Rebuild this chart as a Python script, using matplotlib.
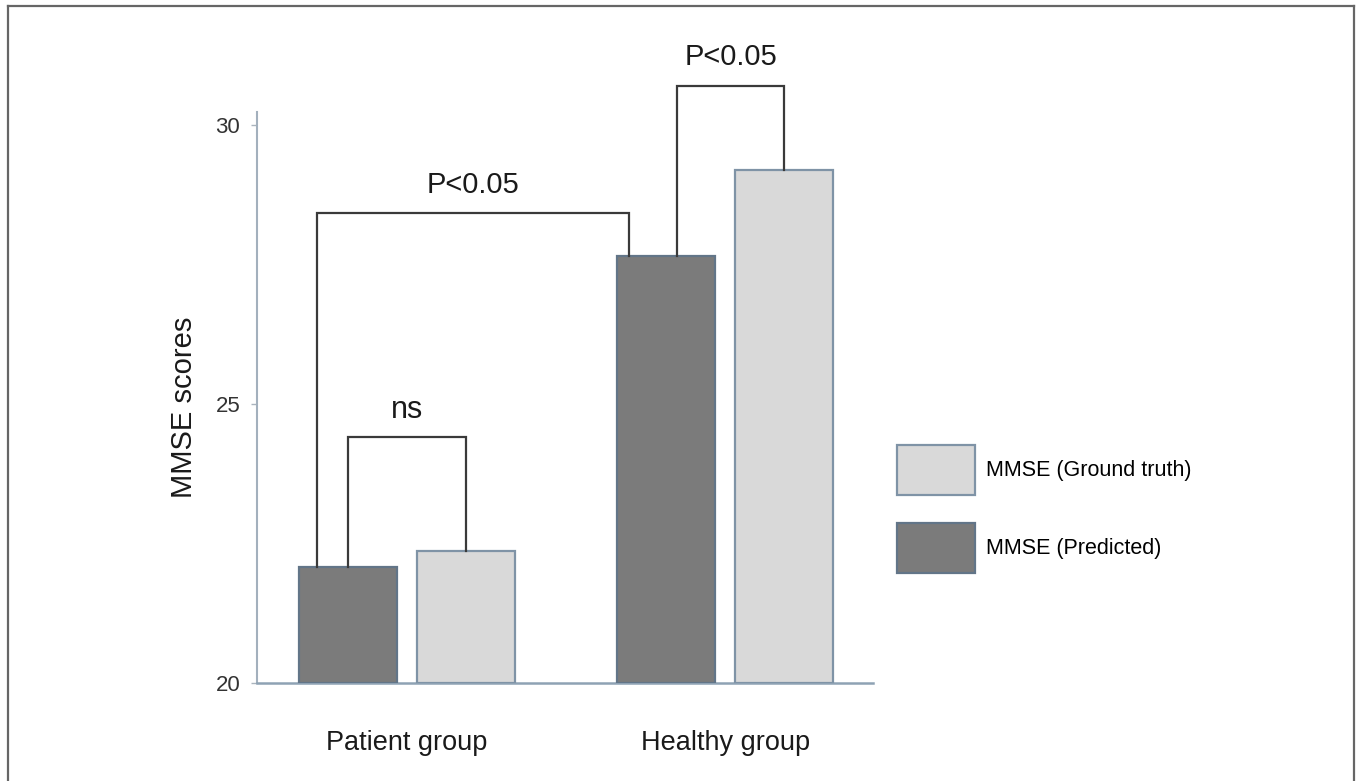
import numpy as np
import matplotlib.pyplot as plt
from matplotlib.lines import Line2D

plt.rcParams['font.family'] = ['Liberation Sans', 'DejaVu Sans']

groups = ['Patient group', 'Healthy group']
series = ['MMSE (Predicted)', 'MMSE (Ground truth)']
predicted = [22.08, 27.65]
ground_truth = [22.37, 29.19]

fill_colors = ['#7b7b7b', '#d9d9d9']
edge_colors = ['#627588', '#7f93a6']

W, H = 1362, 781
fig = plt.figure(figsize=(W / 100, H / 100), dpi=100)
# axes box placed in pixel terms
ax = fig.add_axes([257 / W, (H - 683) / H, (873 - 257) / W, (683 - 41) / H])

x = np.arange(len(groups))
off = 0.185
bw = 0.308
bars_p = ax.bar(x - off, np.array(predicted) - 20, bw, bottom=20, color=fill_colors[0],
                edgecolor=edge_colors[0], linewidth=1.6, label=series[0], zorder=3)
bars_g = ax.bar(x + off, np.array(ground_truth) - 20, bw, bottom=20, color=fill_colors[1],
                edgecolor=edge_colors[1], linewidth=1.6, label=series[1], zorder=3)

ax.set_xlim(-0.472, 1.465)
ax.set_ylim(20, 31.5)

for s in ['top', 'right']:
    ax.spines[s].set_visible(False)
ax.spines['left'].set_bounds(20, 30.23)
ax.spines['left'].set_color('#a3b0bd')
ax.spines['left'].set_linewidth(1.5)
ax.spines['bottom'].set_color('#8ea2b4')
ax.spines['bottom'].set_linewidth(1.8)

ax.set_yticks([20, 25, 30])
ax.tick_params(axis='y', length=4, width=1, color='#aab4be', pad=8,
               labelsize=16, labelcolor='#333333')
ax.set_xticks(x)
ax.set_xticklabels(groups)
ax.tick_params(axis='x', length=0, pad=34, labelsize=19.5, labelcolor='#1a1a1a')

ax.set_ylabel('MMSE scores', fontsize=21, color='#1a1a1a')
ax.yaxis.label.set_va('center')
ax.yaxis.set_label_coords(-0.118, 0.43)


def bracket(x1, x2, y1, y2, top, text, tsize, dy):
    ax.plot([x1, x1, x2, x2], [y1, top, top, y2], color='#3a3a3a', lw=1.6,
            zorder=4, clip_on=False, solid_joinstyle='miter')
    ax.text((x1 + x2) / 2, top + dy, text, ha='center', va='center',
            fontsize=tsize, color='#1a1a1a')


# significance brackets
bracket(x[0] - off, x[0] + off, predicted[0], ground_truth[0], 24.41, 'ns', 22, 0.48)
bracket(-0.283, 0.698, predicted[0], predicted[1], 28.42, 'P<0.05', 21, 0.5)
bracket(0.849, x[1] + off, predicted[1], ground_truth[1], 30.70, 'P<0.05', 21, 0.52)

fig.legend(handles=[bars_g, bars_p], labels=[series[1], series[0]],
           loc='upper left', bbox_to_anchor=(897 / W, 1 - 445 / H),
           bbox_transform=fig.transFigure, frameon=False, borderpad=0,
           fontsize=15.5, handlelength=3.6, handleheight=3.2,
           labelspacing=1.3, handletextpad=0.55, borderaxespad=0)

# outer frame, open at the bottom
fc = '#666666'
fig.add_artist(Line2D([8 / W, 8 / W], [0, 1 - 6 / H], color=fc, lw=1.6))
fig.add_artist(Line2D([8 / W, 1354 / W], [1 - 6 / H, 1 - 6 / H], color=fc, lw=1.6))
fig.add_artist(Line2D([1354 / W, 1354 / W], [0, 1 - 6 / H], color=fc, lw=1.6))

fig.savefig('out.png', dpi=100)
